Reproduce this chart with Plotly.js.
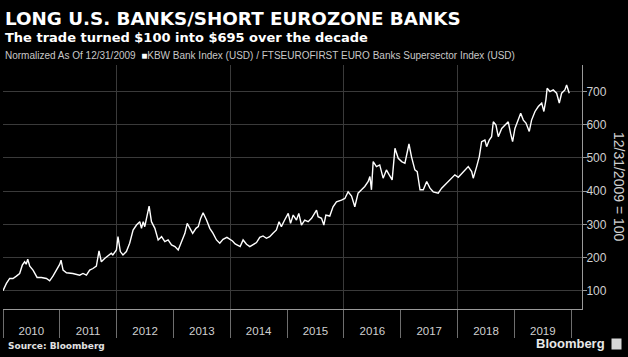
<!DOCTYPE html>
<html>
<head>
<meta charset="utf-8">
<script src="https://cdn.plot.ly/plotly-3.0.1.min.js"></script>
<style>
html,body{margin:0;padding:0;background:#000;}
#chart{width:628px;height:357px;}
</style>
</head>
<body>
<div id="chart"></div>
<script>
// ---- data ----
const dates = [
'2010-01-01','2010-01-23','2010-02-13','2010-03-06','2010-03-28','2010-04-18','2010-05-05','2010-05-20','2010-05-30','2010-06-09','2010-06-22','2010-07-13','2010-08-08','2010-09-05','2010-10-07','2010-10-28','2010-11-18','2010-12-10',
'2011-01-01','2011-01-09','2011-01-22','2011-02-13','2011-03-26','2011-05-09','2011-05-30','2011-06-21','2011-07-12','2011-08-02','2011-08-24','2011-09-10','2011-09-25','2011-10-16','2011-11-06','2011-11-28','2011-12-08','2011-12-31',
'2012-01-10','2012-01-25','2012-02-11','2012-03-04','2012-03-25','2012-04-16','2012-05-08','2012-05-29','2012-06-09','2012-06-20','2012-06-30','2012-07-11','2012-07-28','2012-08-12','2012-09-03','2012-09-24','2012-10-16','2012-11-06','2012-11-27','2012-12-19',
'2013-01-10','2013-01-31','2013-02-22','2013-03-15','2013-03-30','2013-04-16','2013-05-04','2013-05-25','2013-06-09','2013-06-24','2013-07-10','2013-08-01','2013-08-22','2013-09-12','2013-10-04','2013-10-25','2013-11-15','2013-12-10','2013-12-28',
'2014-01-15','2014-02-01','2014-03-05','2014-03-24','2014-04-15','2014-05-06','2014-05-27','2014-06-18','2014-07-09','2014-07-30','2014-08-21','2014-09-11','2014-10-02','2014-10-24','2014-11-10','2014-11-25','2014-12-16',
'2015-01-08','2015-01-23','2015-02-09','2015-03-02','2015-03-17','2015-04-03','2015-04-24','2015-05-16','2015-06-07','2015-07-09','2015-07-19','2015-08-10','2015-08-25','2015-09-07','2015-10-02','2015-10-23','2015-11-14','2015-12-16',
'2016-01-07','2016-01-28','2016-02-19','2016-03-11','2016-04-01','2016-04-23','2016-05-14','2016-06-05','2016-06-16','2016-06-26','2016-07-07','2016-07-28','2016-08-18','2016-09-09','2016-09-30','2016-10-18','2016-11-06','2016-11-24','2016-12-15',
'2017-01-06','2017-01-27','2017-02-22','2017-03-10','2017-04-01','2017-04-16','2017-05-04','2017-05-25','2017-06-16','2017-07-07','2017-07-28','2017-08-29','2017-09-20','2017-10-11','2017-11-08','2017-11-23','2017-12-14',
'2018-01-05','2018-01-27','2018-02-17','2018-03-10','2018-04-01','2018-04-11','2018-05-03','2018-05-20','2018-06-04','2018-06-25','2018-07-06','2018-07-23','2018-08-07','2018-08-18','2018-09-04','2018-09-19','2018-10-11','2018-11-01','2018-11-22','2018-12-07','2018-12-20',
'2019-01-04','2019-01-26','2019-02-10','2019-02-27','2019-03-16','2019-04-06','2019-04-21','2019-05-13','2019-06-03','2019-06-25','2019-07-09','2019-07-22','2019-07-30','2019-08-17','2019-09-07','2019-09-29','2019-10-16','2019-10-31','2019-11-21','2019-12-02','2019-12-11','2019-12-19'
];
const ratioValues = [
100,122,137,137,144,152,177,187,180,195,174,162,140,140,137,130,144,162,
180,192,162,154,152,147,152,147,162,167,174,220,187,197,205,213,208,223,
263,218,208,218,243,283,298,308,288,308,293,318,355,308,288,253,263,248,253,238,
233,223,248,273,303,288,273,288,293,318,335,313,288,273,253,243,255,261,255,
250,241,233,253,240,233,238,245,261,265,258,263,273,283,308,293,313,
333,303,328,313,333,298,313,308,318,343,323,318,298,328,325,353,368,373,
378,398,385,353,394,404,414,429,444,404,489,474,479,439,464,449,434,529,499,
489,484,542,504,464,459,404,404,429,409,398,394,409,419,434,439,449,
442,454,464,474,459,439,474,504,549,554,534,554,564,609,599,564,589,599,609,574,549,
589,614,635,614,605,580,614,640,655,665,640,675,710,700,705,695,665,695,705,720,705,695
];
const yearLabels = ['2010','2011','2012','2013','2014','2015','2016','2017','2018','2019'];
const yearLabelPos = ['2010-07-02','2011-07-02','2012-07-02','2013-07-02','2014-07-02','2015-07-02','2016-07-02','2017-07-02','2018-07-02','2019-07-02'];
const yearBounds = ['2010-01-01','2011-01-01','2012-01-01','2013-01-01','2014-01-01','2015-01-01','2016-01-01','2017-01-01','2018-01-01','2019-01-01','2020-01-01'];
const gridYears = ['2012-01-01','2014-01-01','2016-01-01','2018-01-01'];
const yTicks = [100,200,300,400,500,600,700];

const titleText = 'LONG U.S. BANKS/SHORT EUROZONE BANKS';
const subtitleText = 'The trade turned $100 into $695 over the decade';
const legendText = 'Normalized As Of 12/31/2009 &nbsp;<span style="color:#ffffff">■</span>KBW Bank Index (USD) / FTSEUROFIRST EURO Banks Supersector Index (USD)';
const yTitleText = '12/31/2009 = 100';
const sourceText = 'Source: Bloomberg';

const xRange = ['2010-01-01','2020-03-10'];

const traces = [
  {x: dates, y: ratioValues, type: 'scatter', mode: 'lines',
   line: {color: '#ffffff', width: 1.4}, xaxis: 'x', yaxis: 'y', hoverinfo: 'skip'},
  {x: [], y: [], type: 'scatter', mode: 'lines', xaxis: 'x2', yaxis: 'y', showlegend: false}
];

const layout = {
  width: 628, height: 357,
  paper_bgcolor: '#000000', plot_bgcolor: '#000000',
  margin: {l: 3, r: 46, t: 65, b: 48},
  showlegend: false,
  font: {family: 'Liberation Sans, Arial, sans-serif', color: '#cfcfcf'},
  xaxis: {
    type: 'date', range: xRange, fixedrange: true,
    tickmode: 'array', tickvals: yearLabelPos, ticktext: yearLabels,
    ticks: '', showgrid: false, zeroline: false,
    showline: true, linecolor: '#9a9a9a', linewidth: 1,
    tickfont: {family: 'Liberation Sans, Arial, sans-serif', size: 11.5, color: '#d0d0d0'},
    ticklabelstandoff: 11,
    minor: {tickmode: 'array', tickvals: yearBounds, ticks: 'outside', ticklen: 28, tickwidth: 1, tickcolor: '#6e6e6e', showgrid: false}
  },
  xaxis2: {
    type: 'date', range: xRange, overlaying: 'x', anchor: 'y', side: 'bottom',
    tickmode: 'array', tickvals: gridYears, ticks: '', showticklabels: false,
    showgrid: true, gridcolor: '#3a3a3a', gridwidth: 1, showline: false, zeroline: false
  },
  yaxis: {
    side: 'right', range: [45, 780], fixedrange: true,
    tickmode: 'array', tickvals: yTicks,
    ticks: 'outside', ticklen: 4, tickcolor: '#9a9a9a',
    showline: true, linecolor: '#9a9a9a', linewidth: 1,
    showgrid: true, gridcolor: '#3a3a3a', gridwidth: 1, zeroline: false,
    ticklabelstandoff: -3,
    tickfont: {family: 'Liberation Sans, Arial, sans-serif', size: 12, color: '#d0d0d0'}
  },
  annotations: [
    {text: titleText, xref: 'paper', yref: 'paper', x: 0, y: 1.189, xanchor: 'left', yanchor: 'middle', showarrow: false,
     font: {family: 'DejaVu Sans', size: 18.3, color: '#ffffff', weight: 'bold'}},
    {text: subtitleText, xref: 'paper', yref: 'paper', x: 0, y: 1.113, xanchor: 'left', yanchor: 'middle', showarrow: false,
     font: {family: 'DejaVu Sans', size: 13, color: '#ffffff', weight: 'bold'}},
    {text: legendText, xref: 'paper', yref: 'paper', x: 0, y: 1.037, xanchor: 'left', yanchor: 'middle', showarrow: false,
     font: {family: 'Liberation Sans, Arial, sans-serif', size: 10, color: '#c8c8c8'}},
    {text: yTitleText, xref: 'paper', yref: 'paper', x: 1.064, y: 0.5, xanchor: 'center', yanchor: 'middle', textangle: 90, showarrow: false,
     font: {family: 'Liberation Sans, Arial, sans-serif', size: 14, color: '#d0d0d0'}},
    {text: sourceText, xref: 'paper', yref: 'paper', x: 0.005, y: -0.152, xanchor: 'left', yanchor: 'middle', showarrow: false,
     font: {family: 'DejaVu Sans', size: 9, color: '#e0e0e0', weight: 'bold'}},
    {text: 'Bloomberg', xref: 'paper', yref: 'paper', x: 1.043, y: -0.143, xanchor: 'right', yanchor: 'middle', showarrow: false,
     font: {family: 'Liberation Sans, Arial, sans-serif', size: 13, color: '#e8e8e8', weight: 'bold'}},
    {text: ' ', xref: 'paper', yref: 'paper', x: 1.059, y: -0.143, xanchor: 'center', yanchor: 'middle', showarrow: false,
     width: 7, height: 8, bgcolor: '#d8d8d8', font: {size: 6}}
  ]
};

Plotly.newPlot('chart', traces, layout, {staticPlot: true, displayModeBar: false});
</script>
</body>
</html>
